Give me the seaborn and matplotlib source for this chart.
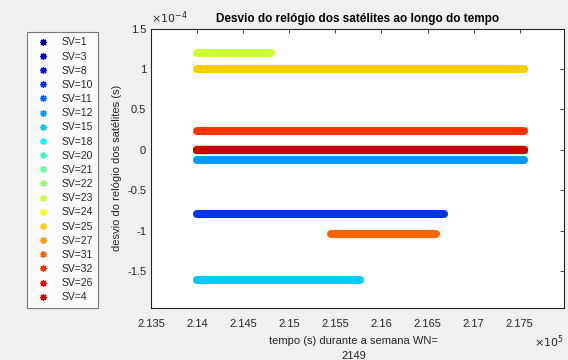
import numpy as np
import pandas as pd
import matplotlib
matplotlib.use("Agg")
import matplotlib.pyplot as plt
import seaborn as sns
from matplotlib.lines import Line2D
from matplotlib.ticker import FuncFormatter, MultipleLocator

# Satellite clock bias over the GPS week WN=2149
sv_ids = [1, 3, 8, 10, 11, 12, 15, 18, 20, 21, 22, 23, 24, 25, 27, 31, 32, 26, 4]
t_start = [214000, 214000, 214000, 214000, 214000, 214000, 214000, 214000, 214000, 214000,
           214000, 214000, 214000, 214000, 214000, 215450, 214000, 214000, 214000]
t_end = [217550, 217550, 217550, 216680, 217550, 217550, 215770, 217550, 217550, 217550,
         217550, 214800, 217550, 217550, 217550, 216590, 217550, 217550, 217550]
bias_start = [0.0, 0.0, 0.0, -0.80e-4, 0.0, -0.13e-4, -1.61e-4, 0.0, 0.0, 0.0,
              0.0, 1.20e-4, 0.01e-4, 1.00e-4, 0.0, -1.04e-4, 0.235e-4, 0.0, 0.0]
bias_end = [0.0, 0.0, 0.0, -0.80e-4, 0.0, -0.13e-4, -1.61e-4, 0.0, 0.0, 0.0,
            0.0, 1.20e-4, 0.01e-4, 1.00e-4, 0.0, -1.04e-4, 0.235e-4, 0.0, 0.0]

labels = [f"SV={s}" for s in sv_ids]

# 19-step jet colormap
jet19 = [(0, 0, 0.6), (0, 0, 0.8), (0, 0, 1), (0, 0.2, 1), (0, 0.4, 1), (0, 0.6, 1),
         (0, 0.8, 1), (0, 1, 1), (0.2, 1, 0.8), (0.4, 1, 0.6), (0.6, 1, 0.4), (0.8, 1, 0.2),
         (1, 1, 0), (1, 0.8, 0), (1, 0.6, 0), (1, 0.4, 0), (1, 0.2, 0), (1, 0, 0), (0.8, 0, 0)]
palette = dict(zip(labels, jet19))

rows = []
for lab, t0, t1, b0, b1 in zip(labels, t_start, t_end, bias_start, bias_end):
    rows.append({"SV": lab, "t": t0, "bias": b0})
    rows.append({"SV": lab, "t": t1, "bias": b1})
df = pd.DataFrame(rows)

sns.set_theme(style="white")
plt.rcParams["font.family"] = ["Liberation Sans", "DejaVu Sans"]
plt.rcParams["axes.unicode_minus"] = False

fig = plt.figure(figsize=(5.68, 3.60), dpi=100, facecolor="#f0f0f0")
ax = fig.add_axes([151 / 568, 1 - 308 / 360, 413 / 568, (308 - 28.7) / 360])
ax.set_facecolor("white")

sns.lineplot(data=df, x="t", y="bias", hue="SV", hue_order=labels, palette=palette,
             estimator=None, sort=False, legend=False, linewidth=5.8,
             solid_capstyle="round", ax=ax)

ax.set_xlim(213500, 217980)
ax.set_ylim(-1.96e-4, 1.5e-4)
ax.xaxis.set_major_locator(MultipleLocator(500))
ax.yaxis.set_major_locator(MultipleLocator(0.5e-4))
ax.xaxis.set_major_formatter(FuncFormatter(lambda v, p: f"{v / 1e5:g}"))
ax.yaxis.set_major_formatter(FuncFormatter(lambda v, p: f"{round(v / 1e-4, 6):g}"))

grey = "#262626"
for s in ax.spines.values():
    s.set_color(grey)
    s.set_linewidth(0.8)
ax.tick_params(direction="in", top=True, right=True, length=3, width=0.6,
               colors=grey, labelsize=8, labelcolor=grey)
ax.tick_params(axis="x", pad=8)

ax.set_title("Desvio do relógio dos satélites ao longo do tempo", fontsize=8.5,
             fontweight="bold", color="black", pad=5)
ax.set_xlabel("tempo (s) durante a semana WN=\n2149", fontsize=8, color=grey,
              linespacing=1.55)
ax.set_ylabel("desvio do relógio dos satélites (s)", fontsize=8, color=grey)
ax.yaxis.set_label_coords(-0.07, 0.5)
ax.xaxis.set_label_coords(0.49, -0.102)
ax.xaxis.label.set_va("top")

ax.text(0.0, 1.01, r"$\times10^{-4}$", transform=ax.transAxes, fontsize=8,
        color=grey, ha="left", va="bottom")
ax.text(1.0, -0.121, r"$\times10^{5}$", transform=ax.transAxes, fontsize=8,
        color=grey, ha="right", va="center")

handles = [Line2D([], [], linestyle="none", marker=(8, 2, 0), markersize=5,
                  markeredgewidth=0.9, color=c) for c in jet19]
leg = fig.legend(handles, labels, loc="upper left",
                 bbox_to_anchor=(22 / 568, 1 - 27 / 360), fontsize=7.5,
                 frameon=True, fancybox=False, labelspacing=0.4,
                 handlelength=2.0, handletextpad=0.8, borderpad=0.5)
leg.get_frame().set_edgecolor("#5a5a5a")
leg.get_frame().set_linewidth(0.8)
leg.get_frame().set_facecolor("white")
for t in leg.get_texts():
    t.set_color(grey)

fig.savefig("out.png", dpi=100, facecolor=fig.get_facecolor())
